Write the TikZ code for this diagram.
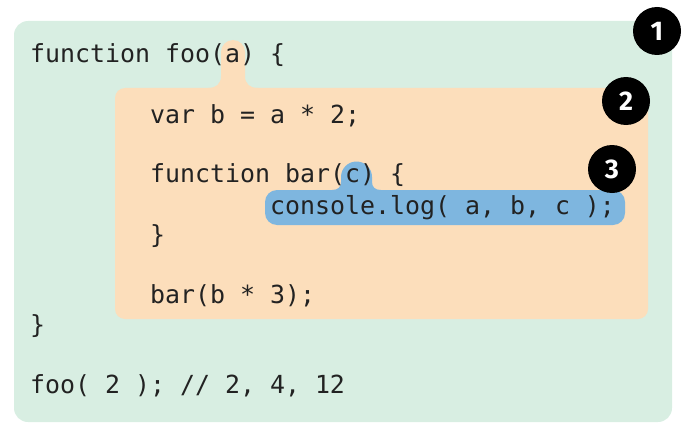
\documentclass[tikz,border=0pt]{standalone}
\usepackage{fontspec}
\setmonofont{DejaVu Sans Mono}
\setsansfont{Fira Sans}
\usetikzlibrary{positioning,calc}

\definecolor{scopeglobal}{HTML}{D8EEE2}
\definecolor{scopefoo}{HTML}{FCDEBB}
\definecolor{scopebar}{HTML}{7EB6DF}
\definecolor{codeink}{HTML}{222222}

\tikzset{
    code/.style={anchor=base west,inner sep=0pt,text=codeink,font=\ttfamily\fontsize{24.9}{30}\selectfont},
    bubble/.style={circle,fill=black,text=white,minimum size=48pt,inner sep=0pt,font=\sffamily\bfseries\fontsize{27}{30}\selectfont}
}

\begin{document}
\begin{tikzpicture}[x=1pt,y=1pt]
    \useasboundingbox (0,0) rectangle (687,432);

    % scope boxes
    \fill[scopeglobal,rounded corners=14pt] (14,10) rectangle (672,411);
    \fill[scopefoo,rounded corners=10pt] (115,113) rectangle (648,344);
    \fill[scopefoo] (208,344) .. controls (216,344) and (221,348) .. (221,356) -- (221,380) arc[start angle=180,end angle=0,radius=12] -- (245,356) .. controls (245,348) and (250,344) .. (258,344) -- (258,340) -- (208,340) -- cycle;
    \fill[scopebar,rounded corners=12pt] (265,207) rectangle (625,242);
    \fill[scopebar] (332,242) .. controls (338,242) and (341,245) .. (341,250) -- (341,255) arc[start angle=180,end angle=0,radius=15.5] -- (372,250) .. controls (372,245) and (375,242) .. (381,242) -- (381,238) -- (332,238) -- cycle;

    % code lines
    \node[code] (fooline) at (30,369) {function foo(a) \{};
    \node[code] (varline) at (150,309) {var b = a * 2;};
    \node[code] (barline) at (150,250) {function bar(c) \{};
    \node[code] (logline) at (270,218) {console.log( a, b, c );};
    \node[code] (barclose) at (150,189) {\}};
    \node[code] (barcall) at (150,129) {bar(b * 3);};
    \node[code] (fooclose) at (30,99) {\}};
    \node[code] (foocall) at (30,39) {foo( 2 ); // 2, 4, 12};

    % scope numbers
    \foreach \nn/\xx/\yy in {1/657/401,2/626/331,3/612/263}{
        \node[bubble] (num\nn) at (\xx,\yy) {\nn};
    }

\end{tikzpicture}
\end{document}
